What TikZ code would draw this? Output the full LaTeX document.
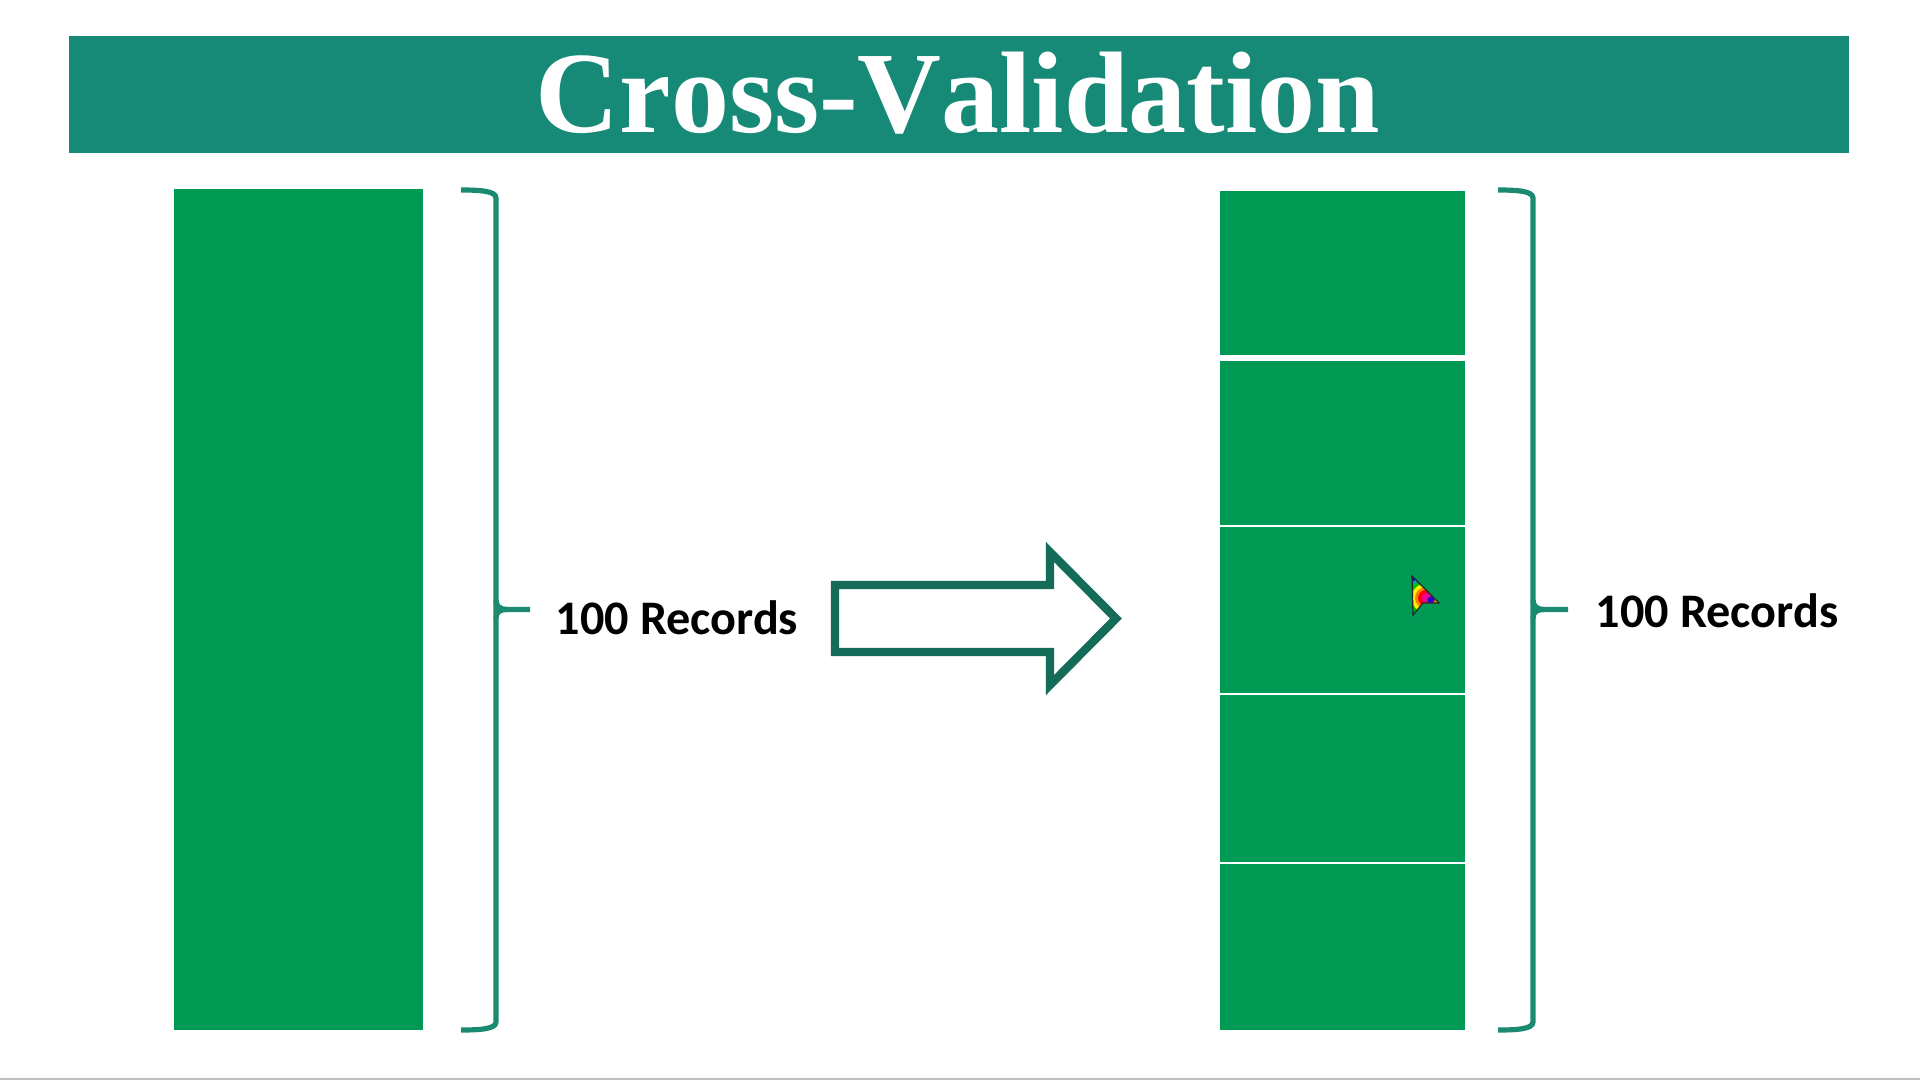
\documentclass[tikz,border=0pt]{standalone}
\usepackage{fontspec}
\setmainfont{Liberation Serif}
\newfontfamily\lblfont{Carlito}
\definecolor{bannerc}{HTML}{178A77}
\definecolor{blockc}{HTML}{009A54}
\definecolor{bracec}{HTML}{1B8A70}
\definecolor{arrowc}{HTML}{136B58}
\tikzset{
  block/.style={fill=blockc,draw=none},
  sep/.style={draw=white,line cap=butt},
  bracket/.style={draw=bracec,line width=2.6pt,line join=round,line cap=butt},
  lbl/.style={font=\lblfont\bfseries\fontsize{24.1}{28}\selectfont,text=black,inner sep=0pt},
}
\begin{document}
\begin{tikzpicture}[x=0.5pt,y=-0.5pt]
\useasboundingbox (0,0) rectangle (1920,1080);
\fill[white] (0,0) rectangle (1920,1080);
\fill[black!25] (0,1078) rectangle (1920,1080);
% banner
\fill[bannerc] (69,36) rectangle (1849,153);
\node[inner sep=0pt,text=white,font=\bfseries\fontsize{58}{64}\selectfont\addfontfeature{Kerning=Off}] (title) at (958,93) {Cross-Validation};
% left block
\fill[block] (174,189) rectangle (422.5,1030);
% right block
\fill[block] (1219.5,191) rectangle (1464.5,1030);
\draw[sep,line width=3pt] (1219.5,358) -- (1464.5,358);
\draw[sep,line width=1.1pt] (1219.5,526) -- (1464.5,526);
\draw[sep,line width=1.1pt] (1219.5,694) -- (1464.5,694);
\draw[sep,line width=1.1pt] (1219.5,863) -- (1464.5,863);
% braces
\draw[bracket] (461,190) .. controls (480,190) and (496,191) .. (496,198) -- (496,600)
  .. controls (496,606) and (500,609.5) .. (507,609.5) -- (530,609.5);
\draw[bracket] (496,600) -- (496,620) -- (496,1022) .. controls (496,1029) and (480,1030) .. (461,1030);
\draw[bracket] (496,618) .. controls (496,612) and (500,609.5) .. (507,609.5);
\draw[bracket] (1498,190) .. controls (1517,190) and (1533,191) .. (1533,198) -- (1533,600)
  .. controls (1533,606) and (1537,609.5) .. (1544,609.5) -- (1568,609.5);
\draw[bracket] (1533,600) -- (1533,620) -- (1533,1022) .. controls (1533,1029) and (1517,1030) .. (1498,1030);
\draw[bracket] (1533,618) .. controls (1533,612) and (1537,609.5) .. (1544,609.5);
% labels
\node[lbl,anchor=center] (leftlabel) at (677,618) {100 Records};
\node[lbl,anchor=center] (rightlabel) at (1717,611) {100 Records};
% arrow
\draw[arrowc,line width=4.2pt,miter limit=10,fill=white] (835,585) -- (1050,585) -- (1050,552) -- (1116,618.5) -- (1050,685) -- (1050,652) -- (835,652) -- cycle;
% cursor
\begin{scope}
\clip (1412,576) -- (1439,603) -- (1423,603) -- (1413,615) -- cycle;
\fill[blue!80!violet] (1405,570) rectangle (1445,620);
\fill[cyan!80!blue] (1426,598) circle (21);
\fill[green!75!black] (1426,598) circle (18);
\fill[yellow] (1426,598) circle (14.5);
\fill[orange] (1426,598) circle (11);
\fill[red] (1426,598) circle (8);
\fill[magenta] (1427,598) circle (5.5);
\fill[blue!70!violet] (1431,600) circle (3.5);
\end{scope}
\draw[black!85,line width=0.6pt] (1412,576) -- (1439,603) -- (1423,603) -- (1413,615) -- cycle;
\end{tikzpicture}
\end{document}
